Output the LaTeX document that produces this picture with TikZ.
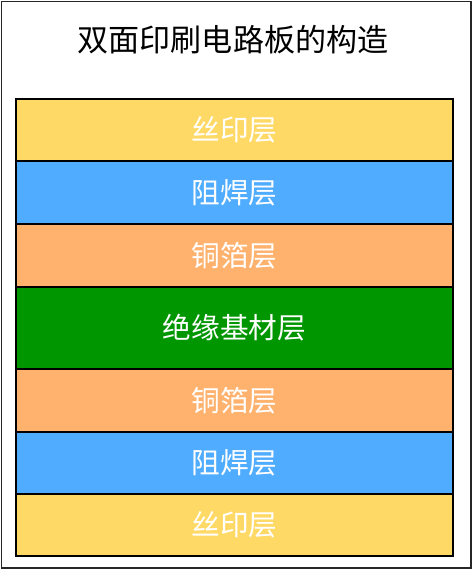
\documentclass[tikz,border=0pt]{standalone}
\usepackage{fontspec}
\setmainfont{Noto Sans CJK SC}
\definecolor{silk}{RGB}{255,217,102}
\definecolor{mask}{RGB}{79,172,255}
\definecolor{copper}{RGB}{255,178,110}
\definecolor{core}{RGB}{0,150,0}
\begin{document}
\begin{tikzpicture}[x=0.75pt,y=-0.75pt,
  layer/.style={draw=black,line width=1.6pt,minimum width=437*0.75pt,inner sep=0pt,text=white,font=\fontsize{21.5pt}{24pt}\selectfont,anchor=north west},
  frame/.style={draw=black!85,line width=1pt}]
\useasboundingbox (0,0) rectangle (473,570);
\draw[frame] (1.5,1.5) rectangle (471,568);
\node[font=\fontsize{23.3pt}{26pt}\selectfont] (title) at (233,40) {双面印刷电路板的构造};
\node[layer,fill=silk,minimum height=62*0.75pt] (l1) at (15,98) {丝印层};
\node[layer,fill=mask,minimum height=63*0.75pt] (l2) at (15,160) {阻焊层};
\node[layer,fill=copper,minimum height=63*0.75pt] (l3) at (15,223) {铜箔层};
\node[layer,fill=core,minimum height=82*0.75pt] (l4) at (15,286) {绝缘基材层};
\node[layer,fill=copper,minimum height=63*0.75pt] (l5) at (15,368) {铜箔层};
\node[layer,fill=mask,minimum height=62*0.75pt] (l6) at (15,431) {阻焊层};
\node[layer,fill=silk,minimum height=62*0.75pt] (l7) at (15,493) {丝印层};
\end{tikzpicture}
\end{document}
